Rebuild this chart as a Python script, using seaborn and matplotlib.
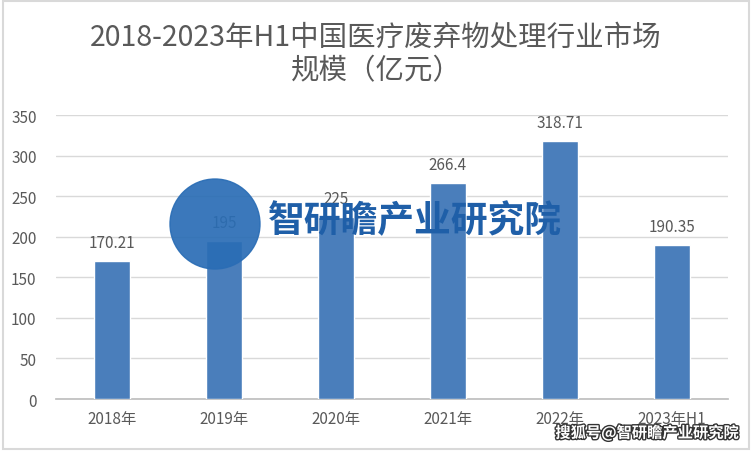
import matplotlib
matplotlib.use('Agg')
import matplotlib.pyplot as plt
import matplotlib.patheffects as pe
import seaborn as sns
import pandas as pd
from matplotlib.patches import Ellipse

#########################
# data
years = ['2018年', '2019年', '2020年', '2021年', '2022年', '2023年H1']
market_size = [170.21, 195, 225, 266.4, 318.71, 190.35]
value_labels = ['170.21', '195', '225', '266.4', '318.71', '190.35']
title = '2018-2023年H1中国医疗废弃物处理行业市场\n规模（亿元）'

df = pd.DataFrame({'year': years, 'size': market_size})

sns.set_theme(style='white')
plt.rcParams['font.family'] = ['Noto Sans CJK SC', 'DejaVu Sans']

text_grey = '#595959'
bar_blue = '#4A7EBB'

fig = plt.figure(figsize=(7.52, 4.52), dpi=100)
ax = fig.add_axes([0.0745, 0.115, 0.8935, 0.628])

sns.barplot(x='year', y='size', data=df, color=bar_blue, width=0.32,
            saturation=1, ax=ax, zorder=3)

ax.set_ylim(0, 350)
ax.set_yticks(range(0, 351, 50))
ax.set_xlim(-0.5, 5.5)
ax.yaxis.grid(True, color='#d9d9d9', linewidth=1, zorder=0)
ax.set_axisbelow(True)
for side in ['top', 'right', 'left']:
    ax.spines[side].set_visible(False)
ax.spines['bottom'].set_color('#bfbfbf')
ax.tick_params(axis='both', colors=text_grey, labelsize=11, length=0)
ax.tick_params(axis='y', pad=14)
ax.tick_params(axis='x', pad=8)
ax.set_xlabel('')
ax.set_ylabel('')

# value labels above bars
for i, v in enumerate(market_size):
    ax.text(i, v + 12, value_labels[i], ha='center', va='bottom',
            fontsize=11, color=text_grey, zorder=4)

fig.text(0.5, 0.95, title, ha='center', va='top', fontsize=20.5,
         color=text_grey, linespacing=1.15)

# watermark
W, H = 752, 452
logo = Ellipse((215 / W, 1 - 225 / H), 2 * 45 / W, 2 * 45 / H,
               transform=fig.transFigure, color='#2a6db5', alpha=0.92, zorder=5)
fig.patches.append(logo)
fig.text(268 / W, 1 - 222 / H, '智研瞻产业研究院', ha='left', va='center',
         fontsize=26.5, fontweight='bold', color='#1f5fa8', zorder=6)
fig.text(0.982, 0.04, '搜狐号@智研瞻产业研究院', ha='right', va='center',
         fontsize=11, color='white', fontweight='bold', zorder=6,
         path_effects=[pe.withStroke(linewidth=2, foreground='#333333')])

# light border round the picture
frame = plt.Rectangle((0.004, 0.004), 0.992, 0.992, transform=fig.transFigure,
                      fill=False, edgecolor='#d9d9d9', linewidth=1.5)
fig.patches.append(frame)

fig.savefig('out.png', dpi=100, facecolor='white')
